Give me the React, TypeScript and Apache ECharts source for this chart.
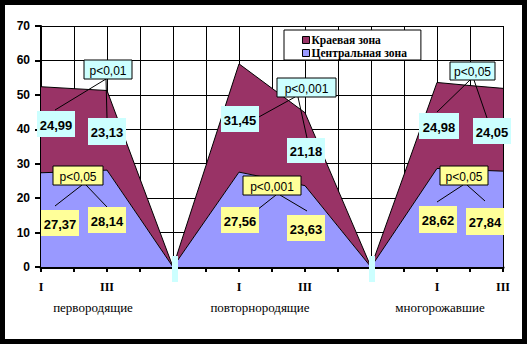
import React, { useEffect, useRef } from 'react';
import * as echarts from 'echarts';

// ---- data ----
const tickLabels = ['I', '', 'III', '', '', '', 'I', '', 'III', '', '', '', 'I', '', 'III'];
const centralZone = [27.37, 27.7, 28.14, 14.1, 0, 13.8, 27.56, 25.6, 23.63, 11.8, 0, 14.3, 28.62, 28.2, 27.84];
const edgeZone = [24.99, 24.1, 23.13, 11.5, 0, 15.7, 31.45, 26.3, 21.18, 10.6, 0, 12.5, 24.98, 24.5, 24.05];
const seriesNames = ['Краевая зона', 'Центральная зона'];
const groupNames = ['первородящие', 'повторнородящие', 'многорожавшие'];
const edgeLabels = [24.99, 23.13, 31.45, 21.18, 24.98, 24.05];
const centralLabels = [27.37, 28.14, 27.56, 23.63, 28.62, 27.84];
const edgeP = ['p<0,01', 'p<0,001', 'p<0,05'];
const centralP = ['p<0,05', 'p<0,001', 'p<0,05'];

// ---- layout (pixels) ----
const edgePBox = [[84, 60, 48, 19], [277, 78, 59, 19], [450, 62, 45, 18]];
const centralPBox = [[53, 166, 50, 19], [243, 176, 58, 19], [440, 166, 48, 19]];
const edgeValBox = [[37, 111, 38, 26], [88, 118, 38, 27], [221, 106, 38, 26], [287, 138, 38, 25], [419, 113, 40, 26], [473, 118, 38, 26]];
const centralValBox = [[41, 210, 38, 26], [88, 207, 38, 26], [221, 207, 38, 26], [287, 215, 38, 26], [419, 206, 38, 27], [466, 208, 38, 27]];
const edgeLines = [[106, 79, 55, 110], [106, 79, 107, 118], [295, 97, 257, 118], [298, 97, 307, 138], [470, 80, 437, 112], [474, 80, 487, 118]];
const centralLines = [[82, 185, 55, 206], [86, 185, 107, 207], [276, 195, 257, 210], [280, 195, 307, 211], [463, 185, 437, 202], [467, 185, 485, 201]];
const groupNameX = [93, 260, 440];
const separators = [[172, 256, 6, 26], [369, 256, 6, 26]];

const MAROON = '#993366';
const BLUE = '#9999ff';
const CYAN = '#ccffff';
const YELLOW = '#ffff99';
const SANS = '"Liberation Sans", Arial, sans-serif';
const SERIF = '"Liberation Serif", "Times New Roman", serif';

const fmt = (v: number) => v.toFixed(2).replace('.', ',');

function box(b: number[], fill: string, border: boolean, text: string, bold: boolean) {
  return [
    {
      type: 'rect',
      z: 100,
      shape: { x: b[0], y: b[1], width: b[2], height: b[3] },
      style: { fill, stroke: border ? '#000' : 'none', lineWidth: border ? 1 : 0 },
    },
    {
      type: 'text',
      z: 101,
      x: b[0] + b[2] / 2,
      y: b[1] + b[3] / 2 + 1,
      style: {
        text,
        fill: '#000',
        font: `${bold ? 'bold ' : ''}${bold ? 13 : 12}px ${SANS}`,
        textAlign: 'center',
        textVerticalAlign: 'middle',
      },
    },
  ];
}

function line(l: number[]) {
  return {
    type: 'line',
    z: 99,
    shape: { x1: l[0], y1: l[1], x2: l[2], y2: l[3] },
    style: { stroke: '#000', lineWidth: 1 },
  };
}

export default function App() {
  const ref = useRef<HTMLDivElement>(null);
  useEffect(() => {
    if (!ref.current) return;
    const chart = echarts.init(ref.current, undefined, { renderer: 'svg' });
    const graphics: any[] = [];
    edgeLines.forEach((l) => graphics.push(line(l)));
    centralLines.forEach((l) => graphics.push(line(l)));
    edgePBox.forEach((b, i) => graphics.push(...box(b, CYAN, true, edgeP[i], false)));
    centralPBox.forEach((b, i) => graphics.push(...box(b, YELLOW, true, centralP[i], false)));
    edgeValBox.forEach((b, i) => graphics.push(...box(b, CYAN, false, fmt(edgeLabels[i]), true)));
    centralValBox.forEach((b, i) => graphics.push(...box(b, YELLOW, false, fmt(centralLabels[i]), true)));
    separators.forEach((s) =>
      graphics.push({ type: 'rect', z: 100, shape: { x: s[0], y: s[1], width: s[2], height: s[3] }, style: { fill: CYAN } })
    );
    groupNames.forEach((n, i) =>
      graphics.push({
        type: 'text',
        z: 100,
        x: groupNameX[i],
        y: 307,
        style: { text: n, fill: '#000', font: `13px ${SERIF}`, textAlign: 'center', textVerticalAlign: 'middle' },
      })
    );

    chart.setOption({
      animation: false,
      grid: { left: 41, right: 24, top: 26, bottom: 77, containLabel: false },
      legend: {
        data: seriesNames,
        left: 284,
        top: 30,
        orient: 'vertical',
        backgroundColor: '#fff',
        borderColor: '#000',
        borderWidth: 1,
        padding: [4, 14, 1, 18],
        itemGap: 1,
        itemWidth: 7,
        itemHeight: 7,
        icon: 'rect',
        itemStyle: { borderColor: '#000', borderWidth: 1 },
        textStyle: { fontFamily: SERIF, fontWeight: 'bold', fontSize: 11.5, lineHeight: 12, color: '#000', padding: [0, 0, 0, -3] },
        z: 50,
      },
      xAxis: {
        type: 'category',
        boundaryGap: false,
        data: tickLabels.map((_, i) => String(i)),
        axisLine: { lineStyle: { color: '#000', width: 3 } },
        axisTick: { show: true, interval: 0, length: 5, lineStyle: { color: '#000', width: 2 } },
        axisLabel: {
          interval: 0,
          margin: 14,
          formatter: (_v: string, idx: number) => tickLabels[idx],
          fontFamily: SERIF,
          fontWeight: 'bold',
          fontSize: 12,
          color: '#000',
        },
        splitLine: { show: true, interval: 0, lineStyle: { color: '#000', width: 1 } },
      },
      yAxis: {
        type: 'value',
        min: 0,
        max: 70,
        interval: 10,
        axisLine: { show: true, lineStyle: { color: '#000', width: 2 } },
        axisTick: { show: true, length: 6, lineStyle: { color: '#000', width: 2 } },
        axisLabel: { margin: 11, fontFamily: SANS, fontWeight: 'bold', fontSize: 12, color: '#000' },
        splitLine: { show: true, lineStyle: { color: '#000', width: 1 } },
      },
      series: [
        {
          name: seriesNames[1],
          type: 'line',
          stack: 'total',
          data: centralZone,
          symbol: 'none',
          color: BLUE,
          lineStyle: { color: '#000', width: 1 },
          areaStyle: { color: BLUE, opacity: 1 },
          itemStyle: { color: BLUE },
        },
        {
          name: seriesNames[0],
          type: 'line',
          stack: 'total',
          data: edgeZone,
          symbol: 'none',
          color: MAROON,
          lineStyle: { color: '#000', width: 1 },
          areaStyle: { color: MAROON, opacity: 1 },
          itemStyle: { color: MAROON },
        },
      ],
      graphic: graphics,
    });
    return () => chart.dispose();
  }, []);

  return (
    <div style={{ position: 'fixed', left: 0, top: 0, width: 527, height: 344, background: '#000' }}>
      <div style={{ position: 'absolute', left: 5, top: 5, width: 517, height: 334, background: '#fff' }} />
      <div ref={ref} style={{ position: 'absolute', left: 0, top: 0, width: 527, height: 344 }} />
    </div>
  );
}
